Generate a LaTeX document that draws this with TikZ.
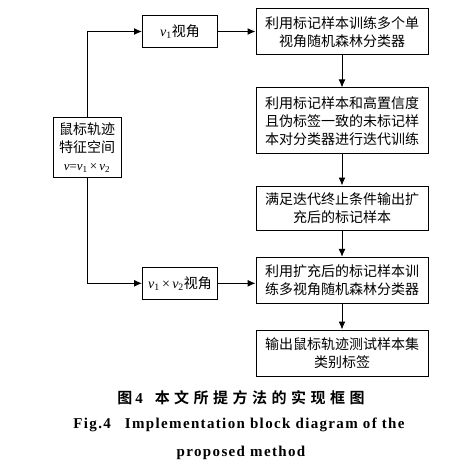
\documentclass[tikz,border=0pt]{standalone}
\usepackage{fontspec}
\setmainfont{Liberation Serif}
\newfontfamily\cjk{Noto Sans CJK SC}
\newfontfamily\cjkb[LetterSpace=30]{Noto Sans CJK SC Bold}
\newfontfamily\capen[LetterSpace=9]{Liberation Serif Bold}
\usetikzlibrary{arrows.meta}
\tikzset{
  blk/.style={draw, line width=1pt, align=center, inner sep=0pt,
    font=\fontsize{14}{17.7}\selectfont\cjk},
  arr/.style={line width=1pt, -{Latex[length=8pt,width=7pt]}},
}
\newcommand{\vv}{\textit{v}}
\begin{document}
\begin{tikzpicture}[x=1pt,y=-1pt]
\useasboundingbox (0,0) rectangle (455,473);
\node[blk, minimum width=68pt, minimum height=60pt] (src) at (87,147.5)
  {鼠标轨迹\\特征空间\\{\rmfamily\fontsize{13}{15}\selectfont\vv=\vv\textsubscript{1}\,×\,\vv\textsubscript{2}}};
\node[blk, minimum width=75pt, minimum height=32pt] (v1) at (180,31.5)
  {{\rmfamily\fontsize{14}{15}\selectfont\vv\textsubscript{1}}视角};
\node[blk, minimum width=75pt, minimum height=32pt] (v12) at (180,283.3)
  {{\rmfamily\fontsize{14}{15}\selectfont\vv\textsubscript{1}\,×\,\vv\textsubscript{2}}视角};
\node[blk, minimum width=172pt, minimum height=46pt] (b1) at (342,32)
  {利用标记样本训练多个单\\视角随机森林分类器};
\node[blk, minimum width=172pt, minimum height=66pt] (b2) at (342,121)
  {利用标记样本和高置信度\\且伪标签一致的未标记样\\本对分类器进行迭代训练};
\node[blk, minimum width=172pt, minimum height=44pt] (b3) at (342,208)
  {满足迭代终止条件输出扩\\充后的标记样本};
\node[blk, minimum width=172pt, minimum height=46pt] (b4) at (342,280.3)
  {利用扩充后的标记样本训\\练多视角随机森林分类器};
\node[blk, minimum width=172pt, minimum height=46pt] (b5) at (342,353)
  {输出鼠标轨迹测试样本集\\类别标签};
\draw[arr] (src.north) |- (v1.west);
\draw[arr] (src.south) |- (v12.west);
\draw[arr] (v1.east) -- (v1.east -| b1.west);
\draw[arr] (v12.east) -- (v12.east -| b4.west);
\draw[arr] (b1) -- (b2);
\draw[arr] (b2) -- (b3);
\draw[arr] (b3) -- (b4);
\draw[arr] (b4) -- (b5);
\node[font=\fontsize{15}{17}\selectfont\cjkb] (cap1) at (241,398) {图\hspace{3pt}{\capen 4}\hspace{12pt}本文所提方法的实现框图};
\node[font=\fontsize{15}{17}\selectfont\capen] (cap2) at (239,425) {Fig.4\hspace{14pt}Implementation block diagram of the};
\node[font=\fontsize{15}{17}\selectfont\capen] (cap3) at (241,453) {proposed method};
\end{tikzpicture}
\end{document}
